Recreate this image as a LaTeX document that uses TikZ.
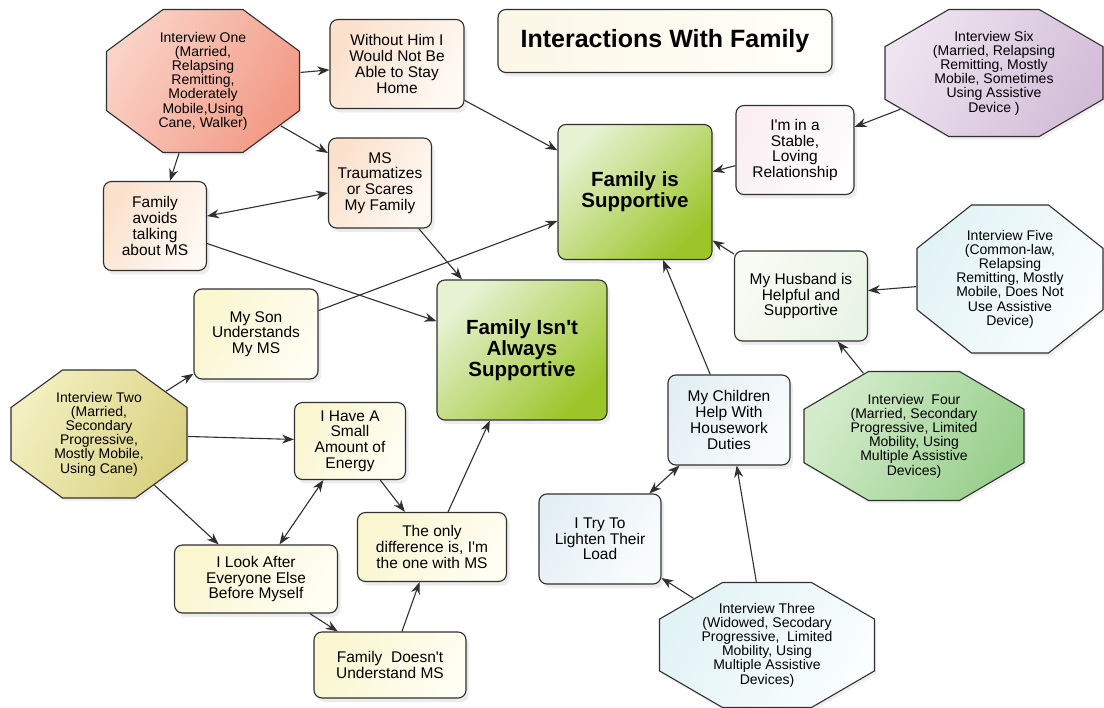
\documentclass[tikz,border=0pt]{standalone}
\usepackage{fontspec}
\setmainfont{Liberation Sans}
\usetikzlibrary{arrows.meta}
\usetikzlibrary{shapes.geometric}
\usetikzlibrary{shadows}

\definecolor{lineg}{HTML}{303030}
\definecolor{salmonA}{HTML}{FAD2C6}
\definecolor{salmonB}{HTML}{F29A86}
\definecolor{peachA}{HTML}{FBE1CC}
\definecolor{peachB}{HTML}{FFF9F4}
\definecolor{oliveA}{HTML}{F3EFC0}
\definecolor{oliveB}{HTML}{D9D282}
\definecolor{creamA}{HTML}{FAF6D0}
\definecolor{creamB}{HTML}{FFFEF3}
\definecolor{leafA}{HTML}{E6F2D2}
\definecolor{leafB}{HTML}{9CC52A}
\definecolor{mossA}{HTML}{D4ECCB}
\definecolor{mossB}{HTML}{98CF8C}
\definecolor{iceA}{HTML}{E2F3F6}
\definecolor{iceB}{HTML}{FAFEFE}
\definecolor{skyA}{HTML}{E4EFF5}
\definecolor{skyB}{HTML}{F9FCFD}
\definecolor{mintA}{HTML}{F8FBF4}
\definecolor{mintB}{HTML}{EAF4E6}
\definecolor{lilacA}{HTML}{EEE3F0}
\definecolor{lilacB}{HTML}{D3BED8}
\definecolor{roseA}{HTML}{FAEEF2}
\definecolor{roseB}{HTML}{FFFDFE}
\definecolor{titleA}{HTML}{FCF7E6}
\definecolor{titleB}{HTML}{FFFFFA}

\tikzset{
  box/.style={draw=lineg, line width=1.1pt, rounded corners=8pt, align=center, inner sep=2pt,
    font=\fontsize{15.5}{15.7}\selectfont,
    drop shadow={opacity=.15, shadow xshift=3pt, shadow yshift=-4pt}},
  bigbox/.style={box, font=\fontsize{20.5}{21}\bfseries\selectfont},
  octa/.style={draw=lineg, line width=1.1pt, regular polygon, regular polygon sides=8,
    minimum size=100pt, inner sep=0pt, transform shape,
    drop shadow={opacity=.12, shadow xshift=2pt, shadow yshift=-3pt}},
  octtext/.style={align=center, inner sep=0pt, font=\fontsize{14}{14.2}\selectfont},
  link/.style={draw=lineg, line width=1.1pt, ->},
  salmonfill/.style={left color=salmonA, right color=salmonB, shading angle=60},
  peachfill/.style={left color=peachA, right color=peachB, shading angle=60},
  olivefill/.style={left color=oliveA, right color=oliveB, shading angle=60},
  creamfill/.style={left color=creamA, right color=creamB, shading angle=60},
  leaffill/.style={left color=leafA, right color=leafB, shading angle=45},
  mossfill/.style={left color=mossA, right color=mossB, shading angle=60},
  icefill/.style={left color=iceA, right color=iceB, shading angle=60},
  skyfill/.style={left color=skyA, right color=skyB, shading angle=60},
  mintfill/.style={left color=mintA, right color=mintB, shading angle=60},
  lilacfill/.style={left color=lilacA, right color=lilacB, shading angle=60},
  rosefill/.style={left color=roseA, right color=roseB, shading angle=60},
  titlefill/.style={left color=titleA, right color=titleB},
}

\begin{document}
\begin{tikzpicture}[x=1pt, y=-1pt, >={Stealth[length=12pt,width=9pt]}]
\fill[white] (0,0) rectangle (1104,708);
\useasboundingbox (0,0) rectangle (1104,708);

\node[box, titlefill, font=\fontsize{25}{27}\bfseries\selectfont, minimum width=334, minimum height=63] (title) at (665,41) {Interactions With Family};

\node[octa, salmonfill, xscale=2.089, yscale=1.548] (i1) at (203,81) {};
\node[octtext] (i1t) at (i1) {Interview One\\(Married,\\Relapsing\\Remitting,\\Moderately\\Mobile,Using\\Cane, Walker)};
\node[box, peachfill, minimum width=134, minimum height=89] (without) at (397,64) {Without Him I\\Would Not Be\\Able to Stay\\Home};
\node[box, peachfill, minimum width=103, minimum height=90] (trauma) at (380,183) {MS\\Traumatizes\\or Scares\\My Family};
\node[box, peachfill, minimum width=103, minimum height=89] (avoids) at (155,226) {Family\\avoids\\talking\\about MS};

\node[octa, olivefill, xscale=1.905, yscale=1.385] (i2) at (99,434) {};
\node[octtext] (i2t) at (i2) {Interview Two\\(Married,\\Secondary\\Progressive,\\Mostly Mobile,\\Using Cane)};
\node[box, creamfill, minimum width=124, minimum height=90] (son) at (256,334) {My Son\\Understands\\My MS};
\node[box, creamfill, minimum width=111, minimum height=77] (energy) at (350,441) {I Have A\\Small\\Amount of\\Energy};
\node[box, creamfill, minimum width=149, minimum height=69] (onlydiff) at (432,547) {The only\\difference is, I\textquotesingle m\\the one with MS};
\node[box, creamfill, minimum width=163, minimum height=68] (lookafter) at (256,579) {I Look After\\Everyone Else\\Before Myself};
\node[box, creamfill, minimum width=152, minimum height=66] (notunder) at (390,665) {Family\ \ Doesn\textquotesingle t\\Understand MS};

\node[bigbox, leaffill, minimum width=154, minimum height=135] (supportive) at (635,192) {Family is\\Supportive};
\node[bigbox, leaffill, minimum width=170, minimum height=140] (notalways) at (522,350) {Family Isn\textquotesingle t\\Always\\Supportive};

\node[octa, lilacfill, xscale=2.360, yscale=1.375] (i6) at (994,73) {};
\node[octtext] (i6t) at (i6) {Interview Six\\(Married, Relapsing\\Remitting, Mostly\\Mobile, Sometimes\\Using Assistive\\Device )};
\node[box, rosefill, minimum width=118, minimum height=89] (stable) at (795,150) {I\textquotesingle m in a\\Stable,\\Loving\\Relationship};
\node[octa, icefill, xscale=2.013, yscale=1.602] (i5) at (1010,279) {};
\node[octtext] (i5t) at (i5) {Interview Five\\(Common-law,\\Relapsing\\Remitting, Mostly\\Mobile, Does Not\\Use Assistive\\Device)};
\node[box, mintfill, minimum width=133, minimum height=90] (husband) at (801,296) {My Husband is\\Helpful and\\Supportive};
\node[octa, mossfill, xscale=2.381, yscale=1.396] (i4) at (914,436) {};
\node[octtext] (i4t) at (i4) {Interview\ \ Four\\(Married, Secondary\\Progressive, Limited\\Mobility, Using\\Multiple Assistive\\Devices)};
\node[box, skyfill, minimum width=122, minimum height=90] (children) at (729,420) {My Children\\Help With\\Housework\\Duties};
\node[box, skyfill, minimum width=122, minimum height=90] (lighten) at (600,539) {I Try To\\Lighten Their\\Load};
\node[octa, icefill, xscale=2.327, yscale=1.353] (i3) at (767,645) {};
\node[octtext] (i3t) at (i3) {Interview Three\\(Widowed, Secodary\\Progressive,\ \ Limited\\Mobility, Using\\Multiple Assistive\\Devices)};

\foreach \a/\b in {i1/without, i1/trauma, i1/avoids, without/supportive, trauma/notalways,
  avoids/notalways, son/supportive, i2/son, i2/energy, i2/lookafter, energy/onlydiff,
  lookafter/notunder, notunder/onlydiff, onlydiff/notalways, i6/stable, stable/supportive,
  i5/husband, husband/supportive, i4/husband, children/supportive, i3/lighten, i3/children}
  \draw[link] (\a) -- (\b);
\draw[link, <->] (avoids) -- (trauma);
\draw[link, <->] (energy) -- (lookafter);
\draw[link, <->] (children) -- (lighten);
\end{tikzpicture}
\end{document}
